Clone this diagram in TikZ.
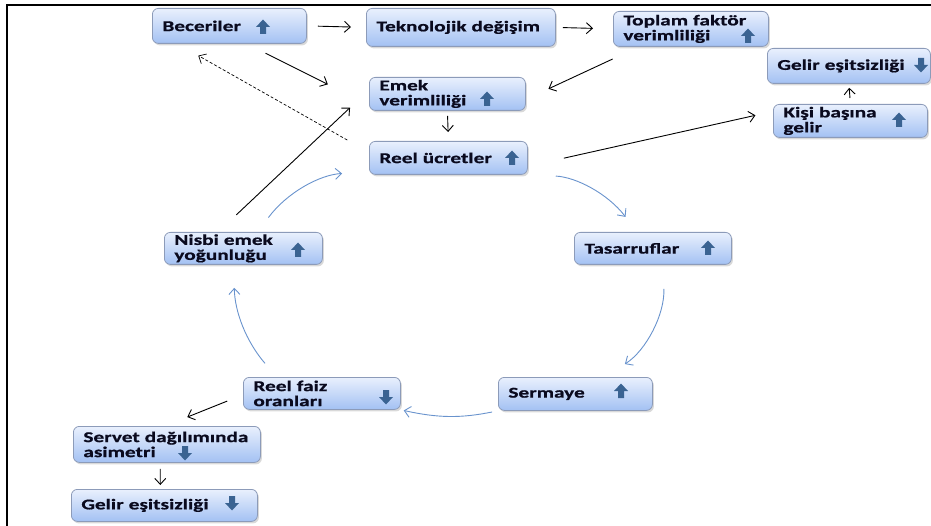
\documentclass[tikz,border=0pt]{standalone}
\usepackage{fontspec}
\setmainfont{Carlito}[FakeStretch=1.42, BoldFeatures={FakeBold=0.8}]
\usepackage{tikz}
\usetikzlibrary{arrows.meta, shadows}

\definecolor{boxtop}{RGB}{233,240,253}
\definecolor{boxbot}{RGB}{163,193,243}
\definecolor{boxline}{RGB}{140,155,185}
\definecolor{boxtext}{RGB}{10,10,30}
\definecolor{iconblue}{RGB}{58,99,146}
\definecolor{loopblue}{RGB}{105,147,205}

\tikzset{
  uparr/.pic={\fill[iconblue] (-3,7) -- (-3,0) -- (-7,0) -- (0,-7.5) -- (7,0) -- (3,0) -- (3,7) -- cycle;},
  dnarr/.pic={\fill[iconblue] (-3,-7) -- (-3,0) -- (-7,0) -- (0,7.5) -- (7,0) -- (3,0) -- (3,-7) -- cycle;}
}

\begin{document}
\begin{tikzpicture}[->, >={Straight Barb[length=6pt,width=11pt]}, x=1pt, y=-1pt, line width=0.9pt]
\tikzstyle{box}=[draw=boxline, line width=0.8pt, rounded corners=6pt, top color=boxtop, bottom color=boxbot,
  drop shadow={opacity=0.3, shadow xshift=1.5pt, shadow yshift=-2pt}, anchor=north west,
  inner xsep=10pt, inner ysep=0pt, align=left, text=boxtext, font=\bfseries\fontsize{15}{15}\selectfont]
\tikzstyle{cyc}=[draw=loopblue, line width=0.9pt]

\useasboundingbox (0,0) rectangle (931,526);
\draw[-, line width=1.5pt] (7,526) -- (7,5) -- (931,5);

\node[box, minimum width=154pt, minimum height=35pt, text width=134pt] (bec) at (152,8)   {Beceriler};
\node[box, minimum width=189pt, minimum height=38pt, text width=169pt] (tek) at (366,8)   {Teknolojik değişim};
\node[box, minimum width=155pt, minimum height=35pt, text width=135pt] (tfv) at (613,11)  {Toplam faktör\\verimliliği};
\node[box, minimum width=163pt, minimum height=35pt, text width=143pt] (ge1) at (767,48)  {Gelir eşitsizliği};
\node[box, minimum width=154pt, minimum height=33pt, text width=134pt] (kbg) at (773,104) {Kişi başına\\gelir};
\node[box, minimum width=156pt, minimum height=33pt, text width=136pt] (ev)  at (369,77)  {Emek\\verimliliği};
\node[box, minimum width=158pt, minimum height=33pt, text width=138pt] (ru)  at (369,141) {Reel ücretler};
\node[box, minimum width=158pt, minimum height=32pt, text width=138pt] (neh) at (164,232) {Nisbi emek\\yoğunluğu};
\node[box, minimum width=157pt, minimum height=32pt, text width=137pt] (tas) at (574,232) {Tasarruflar};
\node[box, minimum width=154pt, minimum height=33pt, text width=134pt] (ser) at (498,377) {Sermaye};
\node[box, minimum width=157pt, minimum height=32pt, text width=137pt] (rfo) at (243,377) {Reel faiz\\oranları};
\node[box, minimum width=187pt, minimum height=36pt, text width=167pt] (sda) at (73,426)  {Servet dağılımında\\asimetri};
\node[box, minimum width=186pt, minimum height=32pt, text width=166pt] (ge2) at (71,489)  {Gelir eşitsizliği};

% up / down marks
\pic at (263,27)  {uparr};
\pic at (748,36)  {uparr};
\pic at (921,65)  {dnarr};
\pic at (899,120) {uparr};
\pic at (487,99)  {uparr};
\pic at (512,158) {uparr};
\pic at (298,250) {uparr};
\pic at (708,248) {uparr};
\pic at (621,391) {uparr};
\pic at (386,397) {dnarr};
\pic at (185,453) {dnarr};
\pic at (232,503) {dnarr};

\path
(bec.east) edge[shorten <=11pt, shorten >=15pt] (tek.west)
(tek.east) edge[shorten <=7pt, shorten >=20pt]  (tfv.west)
(bec.-46)  edge[shorten <=21pt, shorten >=46pt] (ev.188)
(ru.176)   edge[line width=0.7pt, dash pattern=on 3pt off 2pt, shorten <=25pt, shorten >=24pt] (bec.199)
(tfv.199)  edge[shorten <=29pt, shorten >=25pt] (ev.-4)
(ev.south) edge[shorten <=5pt, shorten >=9pt]   (ru.north)
(ru.-6)    edge[shorten <=37pt, shorten >=18pt] (kbg.173)
(kbg.north) edge[shorten <=6pt, shorten >=4pt]  (ge1.south)
(neh.147)  edge[shorten <=25pt, shorten >=26pt] (ev.177)
(rfo.181)  edge[shorten <=17pt, shorten >=24pt] (sda.96)
(sda.250)  edge[shorten <=6pt, shorten >=4pt]   (ge2.104);

\path
(neh.49)  edge[cyc, bend left=25, shorten <=18pt, shorten >=27pt] (ru.190)
(ru.south east) edge[cyc, bend left=25, shorten <=28pt, shorten >=19pt] (tas.134)
(tas.-59) edge[cyc, bend left=30, shorten <=24pt, shorten >=24pt] (ser.30)
(ser.south west) edge[cyc, bend left=12, shorten <=6pt, shorten >=3pt] (rfo.south east)
(rfo.160) edge[cyc, bend left=20, shorten <=18pt, shorten >=23pt] (neh.240);
\end{tikzpicture}
\end{document}
